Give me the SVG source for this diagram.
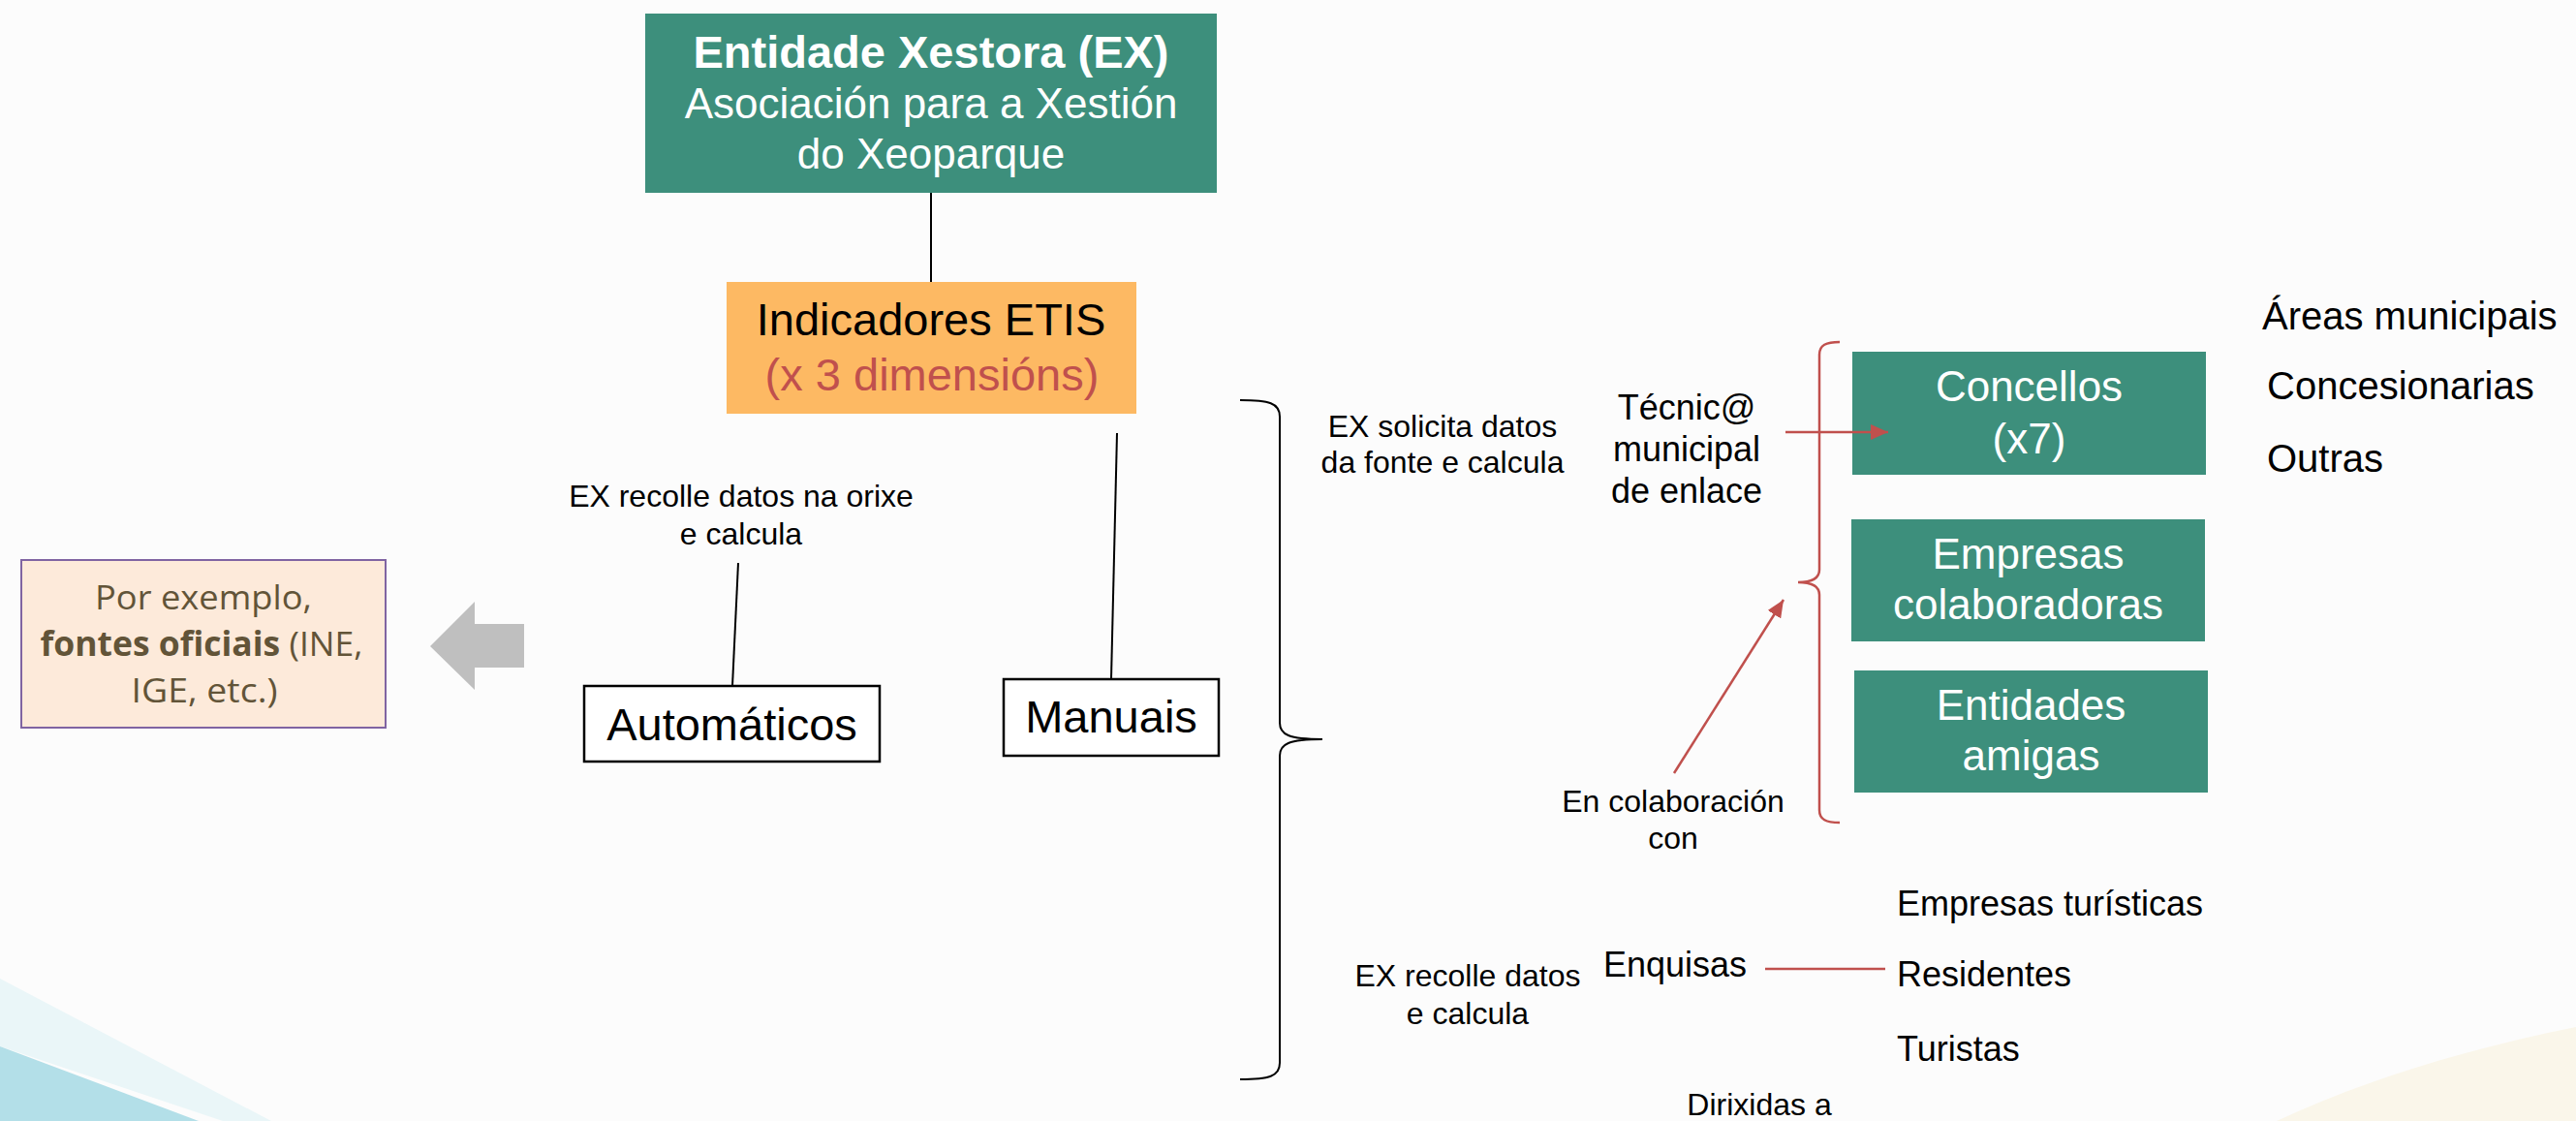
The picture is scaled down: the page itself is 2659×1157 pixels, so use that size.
<svg xmlns="http://www.w3.org/2000/svg" width="2659" height="1157" viewBox="0 0 2659 1157">
<style>
.t{font-family:"Liberation Sans",Arial,sans-serif;}
.w{fill:#ffffff;}
.k{fill:#000000;}
.teal{fill:#3d8f7c;}
.box{fill:#ffffff;stroke:#000000;stroke-width:2.5;}
.ln{stroke:#000000;stroke-width:2;fill:none;}
.rd{stroke:#c0504d;stroke-width:2.5;fill:none;}
.pe{font-family:"Open Sans","Noto Sans",sans-serif;fill:#625438;font-size:35px;}
</style>
<defs>
<marker id="arr" markerUnits="userSpaceOnUse" markerWidth="20" markerHeight="16" refX="18" refY="8" orient="auto">
<path d="M0,0 L18,8 L0,16 z" fill="#c0504d"/>
</marker>
</defs>
<rect x="0" y="0" width="2659" height="1157" fill="#fcfcfc"/>
<path d="M0,1010 L0,1080 L230,1157 L280,1157 Z" fill="#eaf6f8"/>
<path d="M0,1080 L0,1157 L205,1157 Z" fill="#b3dfe8"/>
<path d="M2350,1157 C2450,1110 2560,1080 2659,1060 L2659,1157 Z" fill="#faf6ea"/>

<g id="ex">
<rect class="teal" x="666" y="14" width="590" height="185"/>
<text class="t w" x="961" y="70" font-size="47" font-weight="bold" text-anchor="middle">Entidade Xestora (EX)</text>
<text class="t w" x="961" y="122" font-size="44" text-anchor="middle">Asociación para a Xestión</text>
<text class="t w" x="961" y="174" font-size="44" text-anchor="middle">do Xeoparque</text>
</g>

<g id="indicadores">
<rect x="750" y="291" width="423" height="136" fill="#fdb963"/>
<text class="t k" x="961" y="346" font-size="47" text-anchor="middle">Indicadores ETIS</text>
<text class="t" x="962" y="403" font-size="47" text-anchor="middle" fill="#c0504d">(x 3 dimensións)</text>
</g>

<g id="label-auto">
<text class="t k" x="765" y="523" font-size="32" text-anchor="middle">EX recolle datos na orixe</text>
<text class="t k" x="765" y="562" font-size="32" text-anchor="middle">e calcula</text>
</g>

<g id="automaticos">
<rect class="box" x="603" y="708" width="305" height="78"/>
<text class="t k" x="755.5" y="764" font-size="47" text-anchor="middle">Automáticos</text>
</g>

<g id="manuais">
<rect class="box" x="1036" y="701" width="222" height="79"/>
<text class="t k" x="1147" y="756" font-size="47" text-anchor="middle">Manuais</text>
</g>

<g id="por-exemplo">
<rect x="22" y="578" width="376" height="173" fill="#fdeada" stroke="#8064a2" stroke-width="2"/>
<text class="pe" x="210" y="629" text-anchor="middle" textLength="224" lengthAdjust="spacingAndGlyphs">Por exemplo,</text>
<text class="pe" x="208" y="677" text-anchor="middle" textLength="333" lengthAdjust="spacingAndGlyphs"><tspan font-weight="bold">fontes oficiais</tspan> (INE,</text>
<text class="pe" x="211" y="725" text-anchor="middle" textLength="151" lengthAdjust="spacingAndGlyphs">IGE, etc.)</text>
</g>

<g id="label-solicita">
<text class="t k" x="1489" y="451" font-size="32" text-anchor="middle">EX solicita datos</text>
<text class="t k" x="1489" y="488" font-size="32" text-anchor="middle">da fonte e calcula</text>
</g>

<g id="tecnico">
<text class="t k" x="1741" y="433" font-size="36" text-anchor="middle">Técnic@</text>
<text class="t k" x="1741" y="476" font-size="36" text-anchor="middle">municipal</text>
<text class="t k" x="1741" y="519" font-size="36" text-anchor="middle">de enlace</text>
</g>

<g id="colaboracion">
<text class="t k" x="1727" y="838" font-size="32" text-anchor="middle">En colaboración</text>
<text class="t k" x="1727" y="876" font-size="32" text-anchor="middle">con</text>
</g>

<g id="concellos">
<rect class="teal" x="1912" y="363" width="365" height="127"/>
<text class="t w" x="2094.5" y="414" font-size="44" text-anchor="middle">Concellos</text>
<text class="t w" x="2094.5" y="468" font-size="44" text-anchor="middle">(x7)</text>
</g>

<g id="empresas-colaboradoras">
<rect class="teal" x="1911" y="536" width="365" height="126"/>
<text class="t w" x="2093.5" y="587" font-size="44" text-anchor="middle">Empresas</text>
<text class="t w" x="2093.5" y="639" font-size="44" text-anchor="middle">colaboradoras</text>
</g>

<g id="entidades-amigas">
<rect class="teal" x="1914" y="692" width="365" height="126"/>
<text class="t w" x="2096.5" y="743" font-size="44" text-anchor="middle">Entidades</text>
<text class="t w" x="2096.5" y="795" font-size="44" text-anchor="middle">amigas</text>
</g>

<g id="concellos-list">
<text class="t k" x="2335" y="340" font-size="40">Áreas municipais</text>
<text class="t k" x="2340" y="412" font-size="40">Concesionarias</text>
<text class="t k" x="2340" y="487" font-size="40">Outras</text>
</g>

<g id="label-recolle">
<text class="t k" x="1515" y="1018" font-size="32" text-anchor="middle">EX recolle datos</text>
<text class="t k" x="1515" y="1057" font-size="32" text-anchor="middle">e calcula</text>
</g>

<g id="enquisas">
<text class="t k" x="1655" y="1008" font-size="36">Enquisas</text>
</g>

<g id="destinatarios">
<text class="t k" x="1958" y="945" font-size="36">Empresas turísticas</text>
<text class="t k" x="1958" y="1018" font-size="36">Residentes</text>
<text class="t k" x="1958" y="1095" font-size="36">Turistas</text>
</g>

<g id="dirixidas">
<text class="t k" x="1816" y="1151" font-size="32" text-anchor="middle">Dirixidas a</text>
</g>

<g id="connectors">
<line class="ln" x1="961" y1="199" x2="961" y2="291"/>
<line class="ln" x1="762" y1="581" x2="756" y2="708"/>
<line class="ln" x1="1153" y1="447" x2="1147" y2="701"/>
<path class="ln" stroke-width="2.5" d="M1280,413 C1310,413 1321,416 1321,430 V746 C1321,758 1330,763 1365,763 C1330,763 1321,768 1321,780 V1097 C1321,1111 1310,1114 1280,1114"/>
<path class="rd" stroke-width="3" d="M1899,353 C1885,353 1878,356 1878,366 V588 C1878,597 1870,601 1856,601 C1870,601 1878,605 1878,614 V836 C1878,846 1885,849 1899,849"/>
<line class="rd" stroke-width="3" x1="1843" y1="446" x2="1949" y2="446" marker-end="url(#arr)"/>
<line class="rd" x1="1728" y1="798" x2="1841" y2="619" marker-end="url(#arr)"/>
<line class="rd" x1="1822" y1="1000" x2="1946" y2="1000"/>
<polygon points="444,667 490,621 490,644 541,644 541,689 490,689 490,712" fill="#bfbfbf"/>
</g>
</svg>
